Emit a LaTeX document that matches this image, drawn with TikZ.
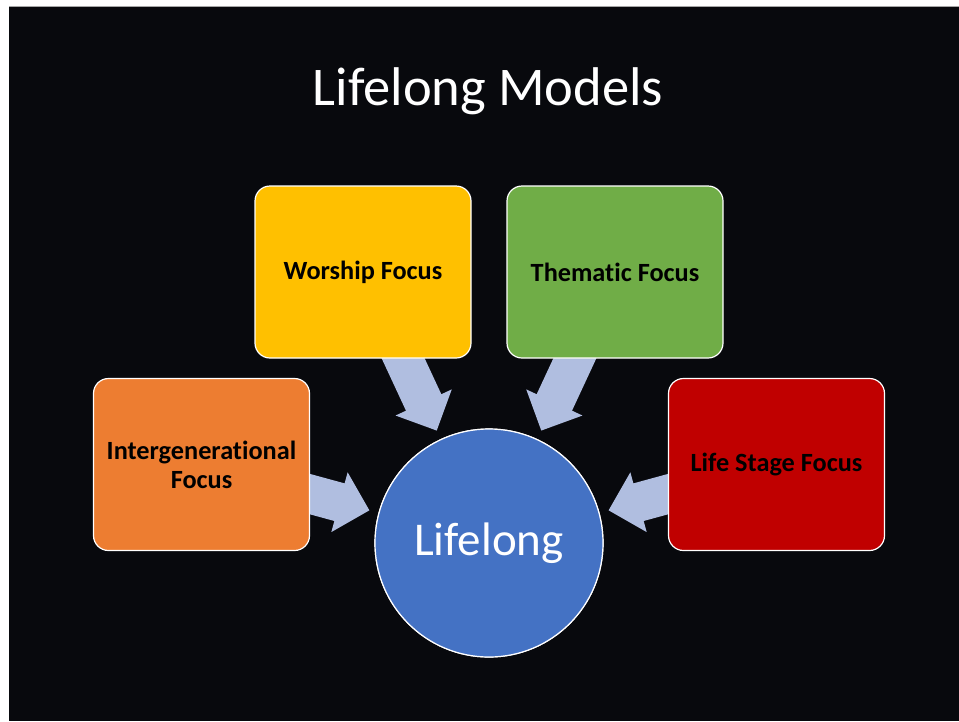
\documentclass[tikz,border=0pt]{standalone}
\usepackage{fontspec}
\setmainfont{Carlito}[Ligatures=NoCommon]
\usetikzlibrary{calc}
\definecolor{slidebg}{RGB}{8,9,13}
\definecolor{arrowc}{RGB}{176,190,224}
\definecolor{worc}{RGB}{255,192,0}
\definecolor{themc}{RGB}{112,173,71}
\definecolor{interc}{RGB}{237,125,49}
\definecolor{lifec}{RGB}{192,0,0}
\definecolor{hubc}{RGB}{68,114,196}
\tikzset{
  focusbox/.style={draw=white, line width=1.2pt, rounded corners=15pt,
    minimum width=216pt, minimum height=172pt, inner sep=0pt,
    align=center, font=\fontsize{26.3}{29}\selectfont\bfseries, text=black},
  hubstyle/.style={circle, draw=white, line width=1.2pt, fill=hubc,
    minimum size=228pt, inner sep=0pt, text=white,
    font=\fontsize{47}{51}\selectfont},
  arrowfill/.style={fill=arrowc}
}
\newcommand\hubarrow[2]{%
  \coordinate (T) at ($(#2.center)!124pt!(#1.center)$);
  \coordinate (B) at ($(#2.center)!155pt!(#1.center)$);
  \coordinate (E) at ($(#2.center)!250pt!(#1.center)$);
  \fill[arrowfill] (T) -- ($(B)!31pt!90:(T)$) -- ($(B)!19.5pt!90:(T)$)
    -- ($(E)!19.5pt!90:(T)$) -- ($(E)!19.5pt!-90:(T)$)
    -- ($(B)!19.5pt!-90:(T)$) -- ($(B)!31pt!-90:(T)$) -- cycle;
}
\begin{document}
\begin{tikzpicture}[x=1pt, y=-1pt]
  \fill[white] (0,0) rectangle (959,721);
  \useasboundingbox (0,0) rectangle (959,721);
  \fill[slidebg] (9,7) rectangle (959,721);
  \draw[gray!70, line width=1pt] (9,6.5) -- (959,6.5);

  \node[text=white, font=\fontsize{54.5}{58}\selectfont] (title) at (488,91) {Lifelong Models};

  \coordinate (worpos) at (363,272);
  \coordinate (thempos) at (615,272);
  \coordinate (interpos) at (201.5,464.5);
  \coordinate (lifepos) at (776.5,464.5);
  \node[hubstyle] (hub) at (489,543) {};

  \node[inner sep=0pt, minimum size=1pt] (wor0) at (worpos) {};
  \node[inner sep=0pt, minimum size=1pt] (them0) at (thempos) {};
  \node[inner sep=0pt, minimum size=1pt] (inter0) at (interpos) {};
  \node[inner sep=0pt, minimum size=1pt] (life0) at (lifepos) {};

  \hubarrow{wor0}{hub}
  \hubarrow{them0}{hub}
  \hubarrow{inter0}{hub}
  \hubarrow{life0}{hub}

  \node[focusbox, fill=worc] (wor) at (worpos) {Worship Focus};
  \node[focusbox, fill=themc] (them) at (thempos) {Thematic Focus};
  \node[focusbox, fill=interc] (inter) at (interpos) {Intergenerational\\Focus};
  \node[focusbox, fill=lifec] (life) at (lifepos) {Life Stage Focus};

  \node[hubstyle] (hubtop) at (489,543) {Lifelong};
\end{tikzpicture}
\end{document}
